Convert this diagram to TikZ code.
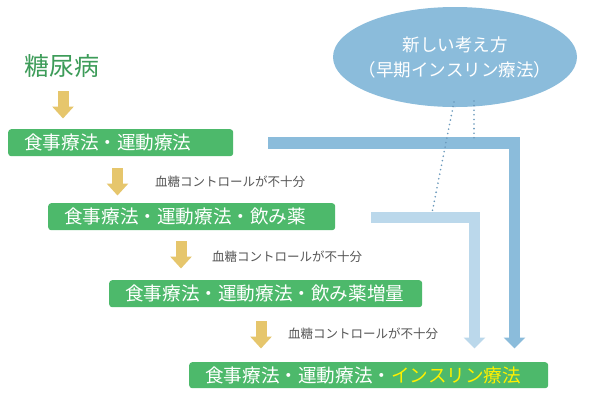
\documentclass[tikz,border=0pt]{standalone}
\usepackage{fontspec}
\setmainfont{Noto Sans CJK JP}
\usetikzlibrary{arrows.meta,shapes.geometric}
\definecolor{boxgreen}{HTML}{4DB96B}
\definecolor{titlegreen}{HTML}{3D9C59}
\definecolor{arrowyellow}{HTML}{E6C66C}
\definecolor{darkblue}{HTML}{8BBCDB}
\definecolor{lightblue}{HTML}{BBD8EB}
\definecolor{dotblue}{HTML}{6A99BC}
\definecolor{labelgray}{HTML}{555555}
\definecolor{insyellow}{HTML}{FFF000}
\tikzset{
  gbox/.style={fill=boxgreen, rounded corners=3pt, text=white, anchor=north west,
    minimum height=27pt, inner xsep=16pt, inner ysep=0pt, align=left,
    font=\fontsize{18.6}{20}\selectfont},
  yarrow/.style={draw=arrowyellow, line width=11pt,
    -{Triangle[width=21pt,length=12pt]}},
  barblue/.style={line width=11.5pt, miter limit=10, line join=miter,
    -{Triangle[width=21pt,length=11pt]}},
  lbl/.style={anchor=west, text=labelgray, inner sep=0pt,
    font=\fontsize{12.5}{14}\selectfont},
  dotline/.style={draw=dotblue, line width=1.8pt, line cap=round,
    dash pattern=on 0pt off 4.6pt}
}
\begin{document}
\begin{tikzpicture}[x=1pt,y=-1pt]
\useasboundingbox (0,0) rectangle (600,400);
\fill[white] (0,0) rectangle (600,400);

% ellipse
\node[ellipse, fill=darkblue, minimum width=244pt, minimum height=100pt, inner sep=0pt]
  (idea) at (455,57) {};
\node[text=white, align=center, inner sep=0pt, font=\fontsize{17.5}{25}\selectfont]
  (ideatext) at (idea.center) {新しい考え方\\（早期インスリン療法）};

% title
\node[anchor=west, text=titlegreen, inner sep=0pt, font=\fontsize{25}{28}\selectfont]
  (title) at (24,66) {糖尿病};

% boxes
\node[gbox, text width=193pt] (b1) at (8,129) {食事療法・運動療法};
\node[gbox, text width=255pt] (b2) at (48,203) {食事療法・運動療法・飲み薬};
\node[gbox, text width=281pt] (b3) at (109,280) {食事療法・運動療法・飲み薬増量};
\node[gbox, text width=327pt, minimum height=26pt] (b4) at (189,362)
  {食事療法・運動療法・\textcolor{insyellow}{インスリン療法}};

% yellow arrows
\coordinate (y1s) at (63,91);   \coordinate (y1e) at (63,118.5);
\coordinate (y2s) at (117.5,168); \coordinate (y2e) at (117.5,195.5);
\coordinate (y3s) at (181,241);  \coordinate (y3e) at (181,268.5);
\coordinate (y4s) at (261,321);  \coordinate (y4e) at (261,348.5);
\draw[yarrow] (y1s) -- (y1e);
\draw[yarrow] (y2s) -- (y2e);
\draw[yarrow] (y3s) -- (y3e);
\draw[yarrow] (y4s) -- (y4e);

% labels
\node[lbl] (l1) at (155,182) {血糖コントロールが不十分};
\node[lbl] (l2) at (212,257) {血糖コントロールが不十分};
\node[lbl] (l3) at (288,334) {血糖コントロールが不十分};

% blue bars
\coordinate (d0) at (268,143);
\coordinate (d1) at (514.5,143);
\coordinate (d2) at (514.5,348.5);
\coordinate (e0) at (371,217.3);
\coordinate (e1) at (474.5,217.3);
\coordinate (e2) at (474.5,348.5);
\draw[barblue, draw=lightblue] (e0) -- (e1) -- (e2);
\draw[barblue, draw=darkblue] (d0) -- (d1) -- (d2);

% dotted lines
\coordinate (p1) at (454,102);
\coordinate (q1) at (432,213);
\coordinate (p2) at (474,101);
\coordinate (q2) at (474,141);
\draw[dotline] (p1) -- (q1);
\draw[dotline] (p2) -- (q2);
\end{tikzpicture}
\end{document}
